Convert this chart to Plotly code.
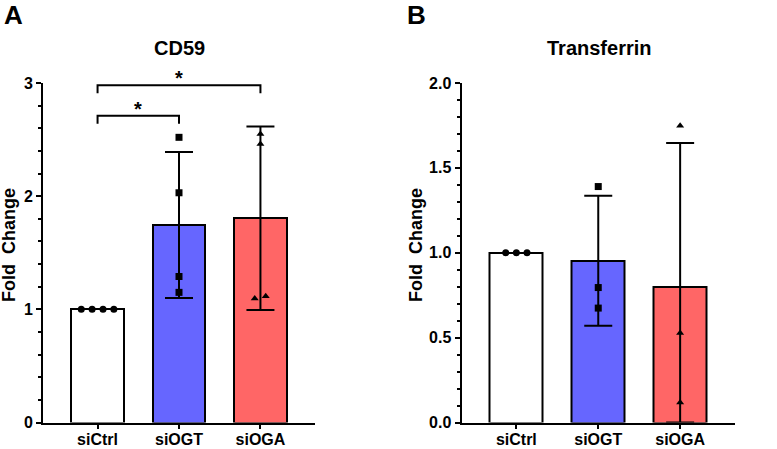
import plotly.graph_objects as go

# ---------------- data ----------------
categories = ["siCtrl", "siOGT", "siOGA"]

cd59_mean = [1.0, 1.745, 1.805]
cd59_sd = [0.0, 0.645, 0.81]
cd59_ctrl_pts = [1.0, 1.0, 1.0, 1.0]
cd59_ogt_pts = [2.52, 2.03, 1.29, 1.15]
cd59_oga_pts = [2.55, 2.46, 1.095, 1.115]

tf_mean = [1.0, 0.953, 0.80]
tf_sd = [0.0, 0.383, 0.846]
tf_ctrl_pts = [1.0, 1.0, 1.0]
tf_ogt_pts = [1.39, 0.795, 0.674]
tf_oga_pts = [1.748, 0.527, 0.118]

# significance: (group a, group b, label, bracket height)
cd59_sig = [(0, 1, "*", 2.71), (0, 2, "*", 2.98)]

cd59_ticks = [0, 1, 2, 3]
tf_ticks = [0.0, 0.5, 1.0, 1.5, 2.0]
tf_ticktext = ["0.0", "0.5", "1.0", "1.5", "2.0"]

# ---------------- styles ----------------
bar_colors = ["#FFFFFF", "#6666FF", "#FF6666"]
FONT = "Liberation Sans, Arial, sans-serif"
jit_cd59 = [[-0.2, -0.067, 0.067, 0.2], [0, 0, 0, 0], [0, 0, -0.07, 0.065]]
jit_tf = [[-0.13, 0, 0.13], [0, 0, 0], [0, 0, 0]]
symbols = ["circle", "square", "triangle-up"]

fig = go.Figure()


def add_panel(xa, ya, means, sds, pts, jit):
    xs = list(range(len(categories)))
    fig.add_trace(go.Bar(
        x=xs, y=means, width=0.65, xaxis=xa, yaxis=ya,
        marker=dict(color=bar_colors, line=dict(color="black", width=2)),
        showlegend=False, hoverinfo="skip"))
    # error bars (only groups with non-zero SD)
    ex, ey, ep, em = [], [], [], []
    for i, (m, s) in enumerate(zip(means, sds)):
        if s > 0:
            ex.append(i)
            ey.append(m)
            ep.append(s)
            em.append(min(s, m))
    fig.add_trace(go.Scatter(
        x=ex, y=ey, mode="markers", xaxis=xa, yaxis=ya,
        marker=dict(size=1, opacity=0),
        error_y=dict(type="data", symmetric=False, array=ep, arrayminus=em,
                     color="black", thickness=2, width=14),
        showlegend=False, hoverinfo="skip", cliponaxis=False))
    for i, (p, j) in enumerate(zip(pts, jit)):
        fig.add_trace(go.Scatter(
            x=[i + d for d in j], y=p, mode="markers", xaxis=xa, yaxis=ya,
            marker=dict(symbol=symbols[i], size=7, color="black"),
            showlegend=False, hoverinfo="skip", cliponaxis=False))


add_panel("x", "y", cd59_mean, cd59_sd,
          [cd59_ctrl_pts, cd59_ogt_pts, cd59_oga_pts], jit_cd59)
add_panel("x2", "y2", tf_mean, tf_sd,
          [tf_ctrl_pts, tf_ogt_pts, tf_oga_pts], jit_tf)

W, H = 777, 449
top_y = 1 - 83 / H
bot_y = 1 - 422.5 / H

axis_common = dict(showline=True, linecolor="black", linewidth=2, ticks="outside",
                   tickcolor="black", tickwidth=1.5, showgrid=False, zeroline=False,
                   automargin=False,
                   tickfont=dict(family=FONT, size=16, color="black", weight="bold"))

xcommon = dict(axis_common, range=[-0.67, 2.67], tickvals=[0, 1, 2],
               ticktext=categories, ticklen=4, ticklabelstandoff=-3)

fig.update_layout(
    width=W, height=H,
    margin=dict(l=0, r=0, t=0, b=0, autoexpand=False),
    paper_bgcolor="white", plot_bgcolor="white",
    bargap=0,
    xaxis=dict(xcommon, domain=[43 / W, 315 / W], anchor="y"),
    xaxis2=dict(xcommon, domain=[461.5 / W, 735 / W], anchor="y2"),
    yaxis=dict(axis_common, domain=[bot_y, top_y], anchor="x", range=[0, 3],
               tickvals=cd59_ticks, ticklen=5,
               minor=dict(dtick=0.2, ticklen=3, ticks="outside", tickcolor="black",
                          tickwidth=1.5)),
    yaxis2=dict(axis_common, domain=[bot_y, top_y], anchor="x2", range=[0, 2],
                tickvals=tf_ticks, ticktext=tf_ticktext, ticklen=5,
                minor=dict(dtick=0.1, ticklen=3, ticks="outside", tickcolor="black",
                           tickwidth=1.5)),
)

# significance brackets
drop = 0.07
for a, b, lab, h in cd59_sig:
    fig.add_shape(type="path", xref="x", yref="y",
                  path=f"M {a} {h - drop} L {a} {h} L {b} {h} L {b} {h - drop}",
                  line=dict(color="black", width=2))
    fig.add_annotation(x=(a + b) / 2, y=h, xref="x", yref="y", text="*",
                       showarrow=False, yanchor="bottom", yshift=-6,
                       font=dict(family=FONT, size=20, color="black", weight="bold"))

ann_font = dict(family=FONT, color="black", weight="bold")
texts = [
    ("A", 13, 15, 26, 0),
    ("B", 416.5, 15, 26, 0),
    ("CD59", 179, 48, 20, 0),
    ("Transferrin", 598.5, 48, 20, 0),
    ("Fold\u00a0\u00a0Change", 9, 245, 18, -90),
    ("Fold\u00a0\u00a0Change", 416, 245, 18, -90),
]
for t, px, py, sz, ang in texts:
    fig.add_annotation(x=px / W, y=1 - py / H, xref="paper", yref="paper", text=t,
                       showarrow=False, xanchor="center", yanchor="middle",
                       textangle=ang, font=dict(ann_font, size=sz))

fig.write_html("out.html", config={"displayModeBar": False},
               post_script="document.body.style.margin='0';document.body.style.overflow='hidden';")
